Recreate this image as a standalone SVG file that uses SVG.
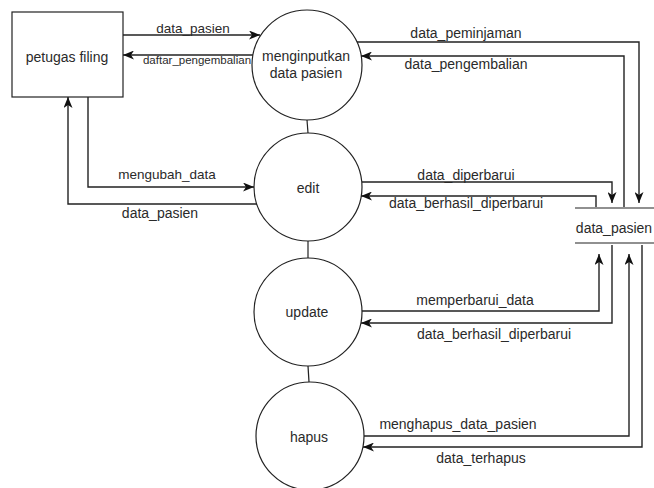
<svg xmlns="http://www.w3.org/2000/svg" width="654" height="488" viewBox="0 0 654 488">
  <defs>
    <marker id="arrow" viewBox="0 0 11 9" refX="11" refY="4.5" markerWidth="11" markerHeight="9" markerUnits="userSpaceOnUse" orient="auto">
      <path d="M0,0 L11,4.5 L0,9 L3,4.5 z" fill="#111"/>
    </marker>
  </defs>
  <style>
    .shape { fill: #fff; stroke: #222; stroke-width: 1.2; }
    .flow { fill: none; stroke: #222; stroke-width: 1.4; }
    .link { fill: none; stroke: #222; stroke-width: 1.2; }
    text { font-family: "Liberation Sans", Arial, sans-serif; font-size: 14px; fill: #2a2a2a; text-anchor: middle; }
    .small { font-size: 11.5px; }
  </style>
  <rect width="654" height="488" fill="#fff"/>

  <!-- links between processes -->
  <g id="process-links">
    <line class="link" x1="307" y1="120" x2="308" y2="133"/>
    <line class="link" x1="308" y1="241" x2="308" y2="258"/>
    <line class="link" x1="308" y1="366" x2="309" y2="382"/>
  </g>

  <!-- external entity -->
  <g id="petugas-filing">
    <rect class="shape" x="12" y="12" width="111" height="85"/>
    <text x="67" y="62">petugas filing</text>
  </g>

  <!-- processes -->
  <g id="menginputkan">
    <circle class="shape" cx="307" cy="65" r="55"/>
    <text x="306" y="61">menginputkan</text>
    <text x="306" y="78">data pasien</text>
  </g>
  <g id="edit">
    <circle class="shape" cx="308" cy="187" r="54"/>
    <text x="308" y="193">edit</text>
  </g>
  <g id="update">
    <circle class="shape" cx="308" cy="312" r="54"/>
    <text x="307" y="317">update</text>
  </g>
  <g id="hapus">
    <circle class="shape" cx="310" cy="436" r="54"/>
    <text x="309" y="442">hapus</text>
  </g>

  <!-- data store -->
  <g id="store-data-pasien">
    <line class="link" x1="575" y1="208" x2="654" y2="208"/>
    <line class="link" x1="575" y1="243" x2="654" y2="243"/>
    <text x="614" y="233">data_pasien</text>
  </g>

  <!-- data flows -->
  <g id="connectors">
    <path class="flow" d="M123,35 H260" marker-end="url(#arrow)"/>
    <path class="flow" d="M253,55 H123" marker-end="url(#arrow)"/>
    <path class="flow" d="M357,42 H639 V203" marker-end="url(#arrow)"/>
    <path class="flow" d="M624,207 V56 H361" marker-end="url(#arrow)"/>
    <path class="flow" d="M88,97 V187 H254" marker-end="url(#arrow)"/>
    <path class="flow" d="M257,204 H68 V97" marker-end="url(#arrow)"/>
    <path class="flow" d="M362,182 H612 V203" marker-end="url(#arrow)"/>
    <path class="flow" d="M596,207 V196 H361" marker-end="url(#arrow)"/>
    <path class="flow" d="M362,311 H599 V254" marker-end="url(#arrow)"/>
    <path class="flow" d="M612,245 V323 H361" marker-end="url(#arrow)"/>
    <path class="flow" d="M364,436 H629 V254" marker-end="url(#arrow)"/>
    <path class="flow" d="M642,245 V447 H363" marker-end="url(#arrow)"/>
  </g>

  <!-- flow labels -->
  <g id="labels">
    <text x="193" y="33" style="font-size:13.5px">data_pasien</text>
    <text class="small" x="197" y="64">daftar_pengembalian</text>
    <text x="466" y="38">data_peminjaman</text>
    <text x="466" y="69">data_pengembalian</text>
    <text x="167" y="179" style="font-size:13.5px">mengubah_data</text>
    <text x="160" y="218">data_pasien</text>
    <text x="466" y="180">data_diperbarui</text>
    <text x="466" y="208">data_berhasil_diperbarui</text>
    <text x="475" y="305">memperbarui_data</text>
    <text x="494" y="339">data_berhasil_diperbarui</text>
    <text x="458" y="429">menghapus_data_pasien</text>
    <text x="481" y="463">data_terhapus</text>
  </g>
</svg>
